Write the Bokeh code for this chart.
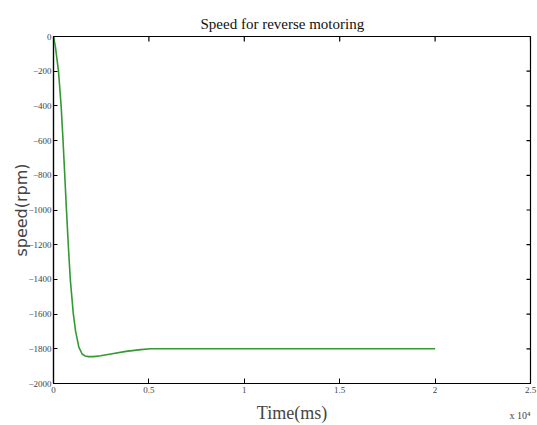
import math
from bokeh.plotting import figure
from bokeh.models import Range1d, FixedTicker, Title
from bokeh.embed import file_html
from bokeh.resources import INLINE

# time (raw units, axis shown x 10^4) and speed (rpm)
time = [0, 100, 262, 400, 500, 590, 680, 775, 880, 1040, 1160, 1328, 1500, 1650,
        1840, 2100, 2470, 3000, 3800, 4570, 5100, 8000, 12000, 16000, 20000]
speed = [0, -60, -200, -400, -600, -800, -1000, -1200, -1400, -1600, -1700, -1790,
         -1830, -1841, -1845, -1845, -1840, -1830, -1815, -1805, -1800, -1800,
         -1800, -1800, -1800]

x_ticks = [0, 5000, 10000, 15000, 20000, 25000]
x_tick_labels = ["0", "0.5", "1", "1.5", "2", "2.5"]
y_ticks = list(range(-2000, 1, 200))

X_MIN, X_MAX = 0, 25000
Y_MIN, Y_MAX = -2000, 0

TICK_FONT = "Liberation Sans Narrow"

p = figure(width=537, height=425, output_backend="svg", toolbar_location=None,
           x_range=Range1d(X_MIN, X_MAX), y_range=Range1d(Y_MIN, Y_MAX),
           min_border_left=53, min_border_right=7, min_border_top=36,
           min_border_bottom=40)

p.title = Title(text="Speed for reverse motoring", align="left",
                text_font="Liberation Serif", text_font_size="15px",
                text_font_style="normal", text_color="#111111", offset=147)

p.line(time, speed, line_color="#339933", line_width=1.6)

# mirrored inward ticks on the top and right edges of the box
p.ray(x=x_ticks, y=[Y_MAX] * len(x_ticks), length=5, length_units="screen",
      angle=-math.pi / 2, line_color="black", line_width=1.2)
p.ray(x=[X_MAX] * len(y_ticks), y=y_ticks, length=4, length_units="screen",
      angle=math.pi, line_color="black", line_width=1.2)

p.xgrid.visible = False
p.ygrid.visible = False
p.outline_line_color = "black"
p.outline_line_width = 1.2
p.background_fill_color = "white"
p.border_fill_color = "white"

xa = p.xaxis[0]
xa.ticker = FixedTicker(ticks=x_ticks)
xa.major_label_overrides = {t: l for t, l in zip(x_ticks, x_tick_labels)}
xa.minor_tick_line_color = None
xa.major_tick_in = 5
xa.major_tick_out = 0
xa.major_label_standoff = 3
xa.major_label_text_font = TICK_FONT
xa.major_label_text_font_size = "9px"
xa.axis_label = "Time(ms)"
xa.axis_label_text_font = "Liberation Serif"
xa.axis_label_text_font_size = "18px"
xa.axis_label_text_font_style = "normal"
xa.axis_label_standoff = 7
xa.axis_line_width = 1.2

ya = p.yaxis[0]
ya.ticker = FixedTicker(ticks=y_ticks)
ya.minor_tick_line_color = None
ya.major_tick_in = 4
ya.major_tick_out = 0
ya.major_label_standoff = 2
ya.major_label_text_font = TICK_FONT
ya.major_label_text_font_size = "9px"
ya.axis_label = "speed(rpm)"
ya.axis_label_text_font = "DejaVu Sans"
ya.axis_label_text_font_size = "16px"
ya.axis_label_text_font_style = "normal"
ya.axis_label_standoff = -6
ya.axis_line_width = 1.2

# x 10^4 multiplier under the right end of the x axis
p.add_layout(Title(text="x 10\u2074", align="right", vertical_align="top",
                   text_font=TICK_FONT, text_font_size="10px",
                   text_font_style="normal", standoff=-32, offset=0), "below")

open("out.html", "w").write(file_html(p, INLINE))
